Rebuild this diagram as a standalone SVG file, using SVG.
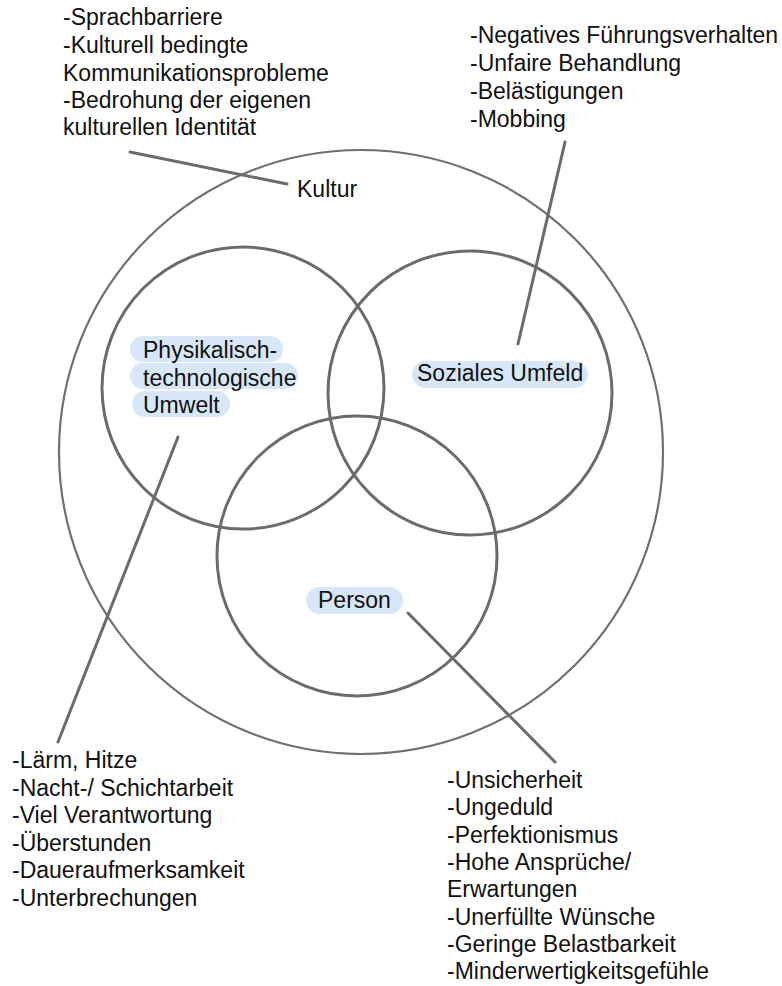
<svg xmlns="http://www.w3.org/2000/svg" width="782" height="986" viewBox="0 0 782 986">
<style>
text{font-family:"Liberation Sans",Arial,sans-serif;font-size:23px;fill:#111}
.ring{fill:none;stroke:#6b6b6b;stroke-width:3}
.outer{fill:none;stroke:#707070;stroke-width:2.2}
.pill{fill:#d7e7f8}
.conn line{stroke:#6b6b6b;stroke-width:3;stroke-linecap:round}
</style>
<rect width="782" height="986" fill="#fff"/>
<g id="kultur">
<circle class="outer" cx="361" cy="452" r="302"/>
<text x="297" y="197">Kultur</text>
</g>
<g id="physikalisch">
<circle class="ring" cx="243" cy="388" r="141"/>
<rect class="pill" x="130" y="336" width="153" height="26" rx="13"/>
<rect class="pill" x="130" y="363" width="168" height="26" rx="13"/>
<rect class="pill" x="132" y="391" width="98" height="26" rx="13"/>
<text x="143" y="358">Physikalisch-</text>
<text x="143" y="386">technologische</text>
<text x="143" y="413">Umwelt</text>
</g>
<g id="soziales">
<circle class="ring" cx="470" cy="393" r="142"/>
<rect class="pill" x="412" y="361" width="176" height="27" rx="13.5"/>
<text x="417" y="381">Soziales Umfeld</text>
</g>
<g id="person">
<circle class="ring" cx="357" cy="556" r="140"/>
<rect class="pill" x="306" y="587" width="97" height="27" rx="13.5"/>
<text x="318" y="608">Person</text>
</g>
<g id="connectors" class="conn">
<line x1="130" y1="152" x2="287" y2="184"/>
<line x1="565" y1="142" x2="518" y2="344"/>
<line x1="178" y1="437" x2="58" y2="742"/>
<line x1="408" y1="613" x2="555" y2="762"/>
</g>
<g id="kultur-notes">
<text x="63" y="25">-Sprachbarriere</text>
<text x="63" y="53">-Kulturell bedingte</text>
<text x="63" y="81">Kommunikationsprobleme</text>
<text x="63" y="108">-Bedrohung der eigenen</text>
<text x="63" y="135">kulturellen Identität</text>
</g>
<g id="soziales-notes">
<text x="470" y="43">-Negatives Führungsverhalten</text>
<text x="470" y="71">-Unfaire Behandlung</text>
<text x="470" y="99">-Belästigungen</text>
<text x="470" y="127">-Mobbing</text>
</g>
<g id="physikalisch-notes">
<text x="12" y="768">-Lärm, Hitze</text>
<text x="12" y="796">-Nacht-/ Schichtarbeit</text>
<text x="12" y="823">-Viel Verantwortung</text>
<text x="12" y="851">-Überstunden</text>
<text x="12" y="878">-Daueraufmerksamkeit</text>
<text x="12" y="906">-Unterbrechungen</text>
</g>
<g id="person-notes">
<text x="447" y="788">-Unsicherheit</text>
<text x="447" y="815">-Ungeduld</text>
<text x="447" y="843">-Perfektionismus</text>
<text x="447" y="870">-Hohe Ansprüche/</text>
<text x="447" y="897">Erwartungen</text>
<text x="447" y="925">-Unerfüllte Wünsche</text>
<text x="447" y="952">-Geringe Belastbarkeit</text>
<text x="447" y="979">-Minderwertigkeitsgefühle</text>
</g>
</svg>
